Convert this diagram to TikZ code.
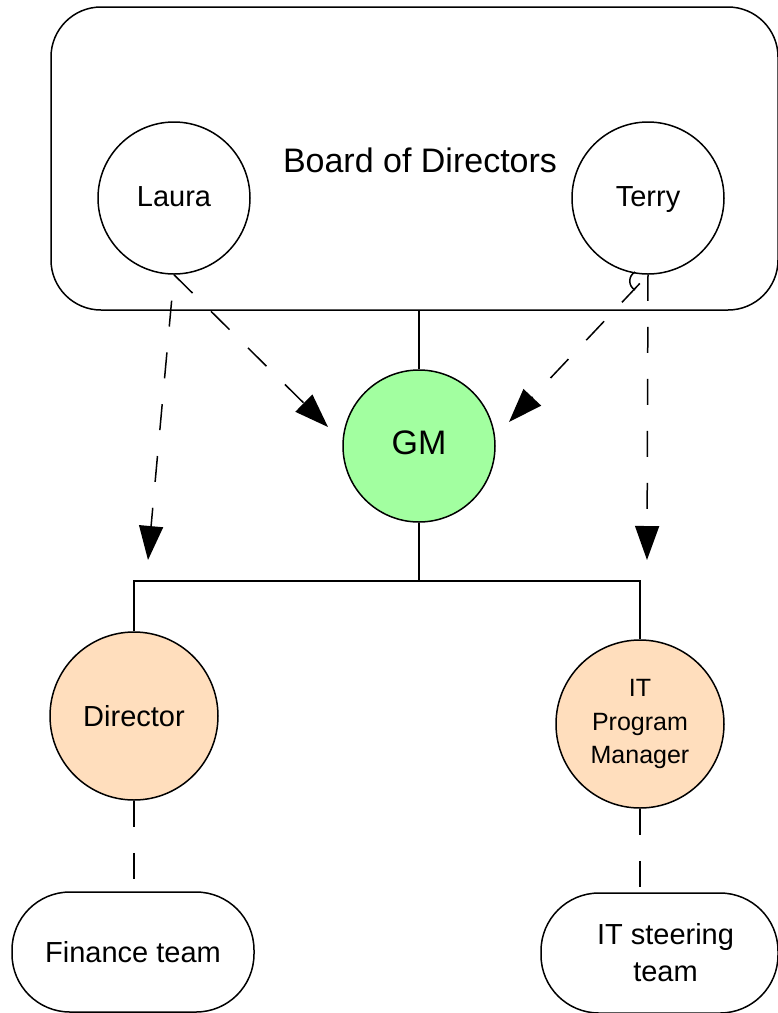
\documentclass[tikz,border=0pt]{standalone}
\usepackage{fontspec}
\setmainfont{Liberation Sans}
\usepackage{tikz}
\usetikzlibrary{arrows.meta}
\usetikzlibrary{positioning}
\usetikzlibrary{calc}
\definecolor{gmgreen}{RGB}{162,255,160}
\definecolor{peach}{RGB}{255,222,189}
\tikzset{
    person/.style={circle, draw=black, inner sep=0pt, minimum size=152pt,
        text height=17pt, text depth=0pt, font=\fontsize{29}{34}\selectfont},
    role/.style={circle, draw=black, fill=peach, inner sep=0pt, minimum size=168pt,
        font=\fontsize{29}{34}\selectfont, align=center},
    team/.style={draw=black, rounded corners=58pt, minimum height=120pt, inner sep=0pt,
        font=\fontsize{29}{37}\selectfont, align=center},
    orgline/.style={draw=black},
    reportline/.style={draw=black, dash pattern=on 26pt off 26pt},
    reportarrow/.style={draw=black, dash pattern=on 26pt off 26pt,
        -{Triangle[length=34pt,width=24pt]}}
}
\begin{document}
\begin{tikzpicture}[x=1pt,y=-1pt,line width=1.5pt]
	\useasboundingbox (0,0) rectangle (778,1013);
	\node[draw=black, rounded corners=50pt, minimum width=727pt, minimum height=303pt,
		font=\fontsize{34}{40}\selectfont] (board) at (414.5,158.5) {};
	\node[font=\fontsize{34}{40}\selectfont] (boardname) at (420,160) {Board of Directors};
	\node[person] (laura) at (174,198) {Laura};
	\node[person] (terry) at (648,198) {Terry};
	\node[person, fill=gmgreen, font=\fontsize{34}{40}\selectfont] (gm) at (419,446) {GM};
	\node[role] (director) at (134,716) {Director};
	\node[role, font=\fontsize{25}{33.5}\selectfont] (itpm) at (640,724) {IT\\Program\\Manager};
	\node[team, minimum width=242pt] (finance) at (133,952) {Finance team};
	\node[team, minimum width=237pt] (steering) at (659.5,953) {\hspace*{12pt}IT steering\\\hspace*{12pt}team};
	% tree
	\coordinate (bar) at (419,581);
	\draw[orgline] (board.south -| gm.north) -- (gm.north);
	\draw[orgline] (gm.south) -- (bar);
	\draw[orgline] (director.north) |- (bar) -| (itpm.north);
	\draw[reportline] (director.south) -- (finance.north -| director.south);
	\draw[reportline] (itpm.south) -- (steering.north -| itpm.south);
	% dashed reports
	\coordinate (dirtip) at (148,560);
	\coordinate (gmleft) at (328,427);
	\coordinate (gmright) at (509,422);
	\coordinate (itpmtip) at (647,560);
	\draw[reportarrow, dash phase=26pt] (laura.south) -- (dirtip);
	\draw[reportarrow] (laura.south) -- (gmleft);
	\draw[reportarrow, dash phase=40pt] (terry.south) -- (gmright);
	\draw[reportarrow] (terry.south) -- (itpmtip);
	\draw (635,272) .. controls (628,276) and (628,286) .. (635,290);
\end{tikzpicture}
\end{document}
